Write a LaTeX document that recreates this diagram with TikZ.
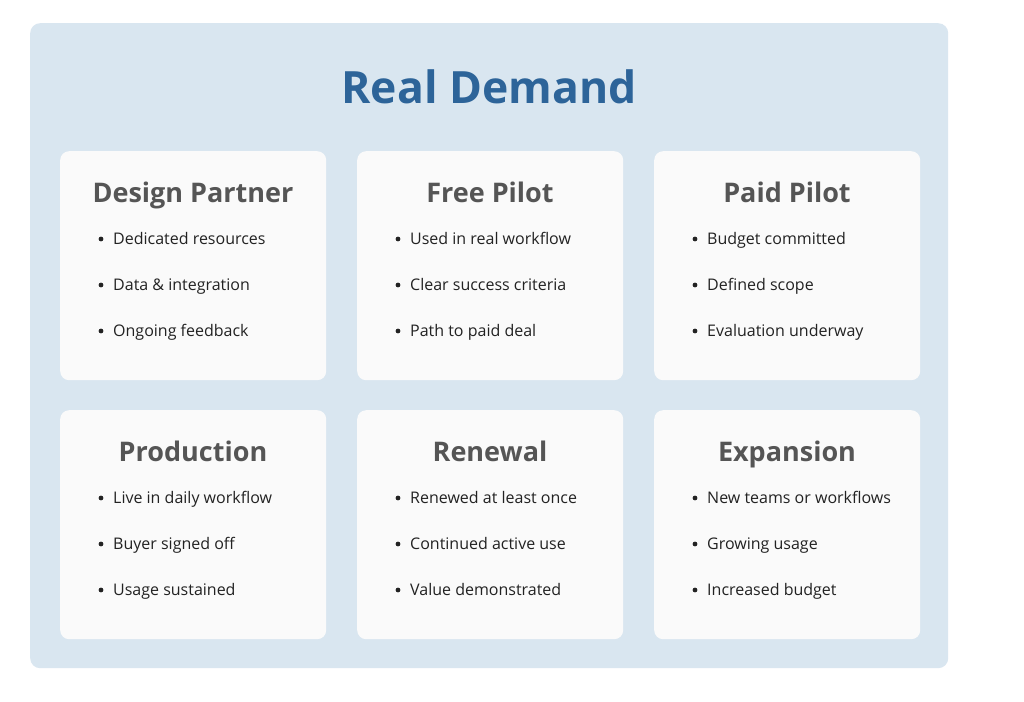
\documentclass[tikz,border=0pt]{standalone}
\usepackage{fontspec}
\setmainfont{Open Sans}
\definecolor{panel}{HTML}{D9E6F0}
\definecolor{ttl}{HTML}{2D6499}
\definecolor{cardt}{HTML}{555555}
\definecolor{txt}{HTML}{222222}
\begin{document}
\begin{tikzpicture}[x=1pt,y=-1pt,
  card/.style={fill=white!98!black,draw=none,rounded corners=9pt},
  ctitle/.style={font=\fontsize{27}{30}\selectfont\bfseries,text=cardt,anchor=base},
  item/.style={font=\fontsize{16}{19}\selectfont,text=txt,anchor=base west,inner sep=0}]
\useasboundingbox (0,0) rectangle (1024,701);
\fill[white] (0,0) rectangle (1024,701);
\node[fill=panel,rounded corners=10pt,minimum width=918pt,minimum height=645pt,anchor=north west,inner sep=0] (panel) at (30,23) {};
\node[font=\fontsize{44.5}{48}\selectfont\bfseries,text=ttl,anchor=base] (title) at (489,103) {Real Demand};
\foreach \cx/\cy/\t/\a/\b/\c/\n in {
 60/151/Design Partner/Dedicated resources/Data \& integration/Ongoing feedback/a,
 357/151/Free Pilot/Used in real workflow/Clear success criteria/Path to paid deal/b,
 654/151/Paid Pilot/Budget committed/Defined scope/Evaluation underway/c,
 60/410/Production/Live in daily workflow/Buyer signed off/Usage sustained/d,
 357/410/Renewal/Renewed at least once/Continued active use/Value demonstrated/e,
 654/410/Expansion/New teams or workflows/Growing usage/Increased budget/f}{
  \node[card,minimum width=266pt,minimum height=229pt,anchor=north west,inner sep=0] (card\n) at (\cx,\cy) {};
  \node[ctitle,inner sep=0] (t\n) at (\cx+133,\cy+51) {\t};
  \foreach \yy/\s/\k in {88/\a/1,134/\b/2,180/\c/3}{
    \fill[txt] (\cx+41,\cy+\yy) circle (2.4pt);
    \node[item] (i\n\k) at (\cx+53,\cy+\yy+5.5) {\s};
  }
}
\end{tikzpicture}
\end{document}
